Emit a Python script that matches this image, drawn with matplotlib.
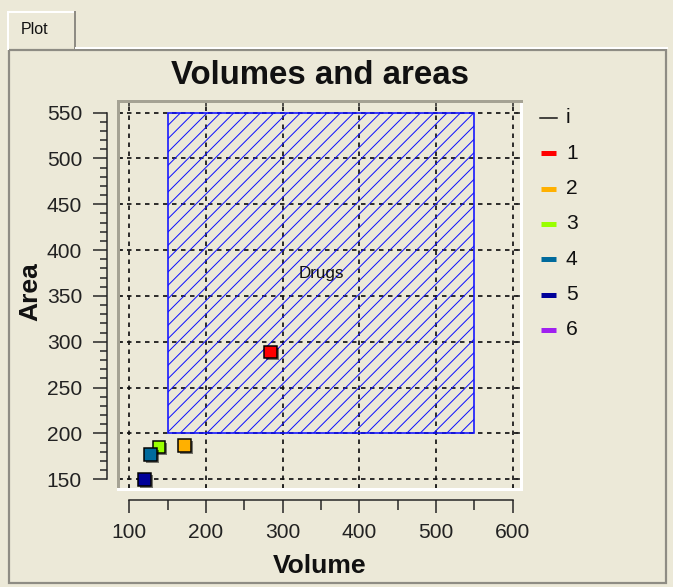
import matplotlib
matplotlib.use('Agg')
import matplotlib.pyplot as plt
from matplotlib.patches import Rectangle
from matplotlib.lines import Line2D
from matplotlib.ticker import FixedLocator, NullFormatter
import matplotlib.patheffects as pe

# ---------------- data ----------------
title = 'Volumes and areas'
x_label = 'Volume'
y_label = 'Area'
tab_label = 'Plot'
legend_title = 'i'
series_names = ['1', '2', '3', '4', '5', '6']
series_colors = ['#ff0000', '#ffb000', '#99ff00', '#006a9c', '#000099', '#a020f0']
series_x = [[284], [172], [139], [128], [120], []]
series_y = [[289], [187], [185], [177], [150], []]
region_name = 'Drugs'
region_x = [150, 550]
region_y = [200, 550]
x_ticks = [100, 200, 300, 400, 500, 600]
x_minor = [150, 250, 350, 450, 550]
y_ticks = [150, 200, 250, 300, 350, 400, 450, 500, 550]
y_minor = [v for v in range(150, 551, 10) if v % 50]
x_lim = (85.3, 610.8)
y_lim = (139.4, 562.7)

# ---------------- setup ----------------
W, H, DPI = 673, 587, 120
BG = '#ECE9D8'
plt.rcParams['lines.scale_dashes'] = False
plt.rcParams['font.family'] = ['Liberation Sans', 'DejaVu Sans']


def pt(px):
    return px * 72.0 / DPI


plt.rcParams['hatch.linewidth'] = pt(1.0)

fig = plt.figure(figsize=(W / DPI, H / DPI), dpi=DPI, facecolor=BG)


def fbox(l, t, r, b):
    return [l / W, 1 - b / H, (r - l) / W, (b - t) / H]


def fx(x):
    return x / W


def fy(y):
    return 1 - y / H


# ---------------- window chrome ----------------
fig.add_artist(Line2D([fx(8), fx(8)], [fy(49), fy(12)], color='white', lw=pt(2), transform=fig.transFigure))
fig.add_artist(Line2D([fx(8), fx(74)], [fy(12), fy(12)], color='white', lw=pt(2), transform=fig.transFigure))
fig.add_artist(Line2D([fx(75), fx(75)], [fy(12), fy(49)], color='#8e8c84', lw=pt(2), transform=fig.transFigure))
fig.text(fx(21), fy(30), tab_label, fontsize=pt(16), va='center', ha='left', color='#111111')
fig.add_artist(Line2D([fx(76), fx(667)], [fy(48), fy(48)], color='white', lw=pt(2), transform=fig.transFigure))
fig.add_artist(Rectangle((fx(9), fy(583)), fx(657), (583 - 50) / H, facecolor='none',
                         edgecolor='#8e8c84', lw=pt(2.2), transform=fig.transFigure))

# ---------------- main plot area ----------------
ax = fig.add_axes(fbox(118, 101, 521, 489), facecolor=BG)
ax.set_xlim(*x_lim)
ax.set_ylim(*y_lim)
for s in ('left', 'top'):
    ax.spines[s].set_color('#a5a294')
    ax.spines[s].set_linewidth(pt(3))
for s in ('right', 'bottom'):
    ax.spines[s].set_color('white')
    ax.spines[s].set_linewidth(pt(3))
ax.xaxis.set_major_locator(FixedLocator(x_ticks))
ax.yaxis.set_major_locator(FixedLocator(y_ticks))
ax.tick_params(which='both', direction='in', length=pt(5), width=pt(1.5), color='#222222',
               top=True, right=True, labelbottom=False, labelleft=False)
ax.grid(True, color='#111111', linestyle=(0, (pt(4.5), pt(4.5))), linewidth=pt(1.7))
ax.set_axisbelow(True)

rect = Rectangle((region_x[0], region_y[0]), region_x[1] - region_x[0], region_y[1] - region_y[0],
                 facecolor='none', edgecolor='#1010ff', hatch='///', lw=pt(1.6), zorder=2)
ax.add_patch(rect)
ax.text((region_x[0] + region_x[1]) / 2, (region_y[0] + region_y[1]) / 2, region_name,
        ha='center', va='center', fontsize=pt(17), color='#111111', zorder=3)

for xs, ys, c in zip(series_x, series_y, series_colors):
    if xs:
        ax.plot(xs, ys, 's', ms=pt(12.5), mfc=c, mec='black', mew=pt(1.5), zorder=4,
                path_effects=[pe.SimplePatchShadow(offset=(1.2, -1.2), shadow_rgbFace='black', alpha=0.5),
                              pe.Normal()])

# ---------------- separate y axis ----------------
yax = fig.add_axes(fbox(107, 101, 108, 489), facecolor='none')
yax.set_ylim(*y_lim)
for s in ('right', 'top', 'bottom'):
    yax.spines[s].set_visible(False)
yax.spines['left'].set_bounds(y_ticks[0], y_ticks[-1])
yax.spines['left'].set_linewidth(pt(1.5))
yax.spines['left'].set_color('#222222')
yax.set_xticks([])
yax.yaxis.set_major_locator(FixedLocator(y_ticks))
yax.yaxis.set_minor_locator(FixedLocator(y_minor))
yax.yaxis.set_minor_formatter(NullFormatter())
yax.tick_params(axis='y', which='major', direction='out', length=pt(14), width=pt(1.5),
                color='#222222', pad=pt(11), labelsize=pt(21), labelcolor='#222222')
yax.tick_params(axis='y', which='minor', direction='out', length=pt(7), width=pt(1.5), color='#222222')

# ---------------- separate x axis ----------------
xax = fig.add_axes(fbox(118, 499, 521, 500), facecolor='none')
xax.set_xlim(*x_lim)
for s in ('left', 'right', 'top'):
    xax.spines[s].set_visible(False)
xax.spines['bottom'].set_bounds(x_ticks[0], x_ticks[-1])
xax.spines['bottom'].set_linewidth(pt(1.5))
xax.spines['bottom'].set_color('#222222')
xax.set_yticks([])
xax.xaxis.set_major_locator(FixedLocator(x_ticks))
xax.xaxis.set_minor_locator(FixedLocator(x_minor))
xax.xaxis.set_minor_formatter(NullFormatter())
xax.tick_params(axis='x', which='major', direction='out', length=pt(13), width=pt(1.5),
                color='#222222', pad=pt(10), labelsize=pt(21), labelcolor='#222222')
xax.tick_params(axis='x', which='minor', direction='out', length=pt(10), width=pt(1.5), color='#222222')

# ---------------- texts ----------------
fig.text(fx(320), fy(75), title, ha='center', va='center', fontsize=pt(33), fontweight='bold', color='#111111')
fig.text(fx(320), fy(566), x_label, ha='center', va='center', fontsize=pt(26.5), fontweight='bold', color='#111111')
fig.text(fx(30), fy(292), y_label, ha='center', va='center', rotation=90, fontsize=pt(26.5),
         fontweight='bold', color='#111111')

# ---------------- legend ----------------
rows_y = [118 + 35.3 * i for i in range(len(series_names) + 1)]
fig.add_artist(Line2D([fx(540), fx(557)], [fy(rows_y[0]), fy(rows_y[0])], color='#111111',
                      lw=pt(1.5), transform=fig.transFigure))
fig.text(fx(566), fy(rows_y[0]), legend_title, ha='left', va='center', fontsize=pt(21), color='#111111')
for name, c, yy in zip(series_names, series_colors, rows_y[1:]):
    fig.add_artist(Line2D([fx(541), fx(556)], [fy(yy), fy(yy)], color=c, lw=pt(5),
                          solid_capstyle='butt', transform=fig.transFigure))
    fig.text(fx(566), fy(yy), name, ha='left', va='center', fontsize=pt(21), color='#111111')

fig.savefig('out.png', dpi=DPI, facecolor=BG)
